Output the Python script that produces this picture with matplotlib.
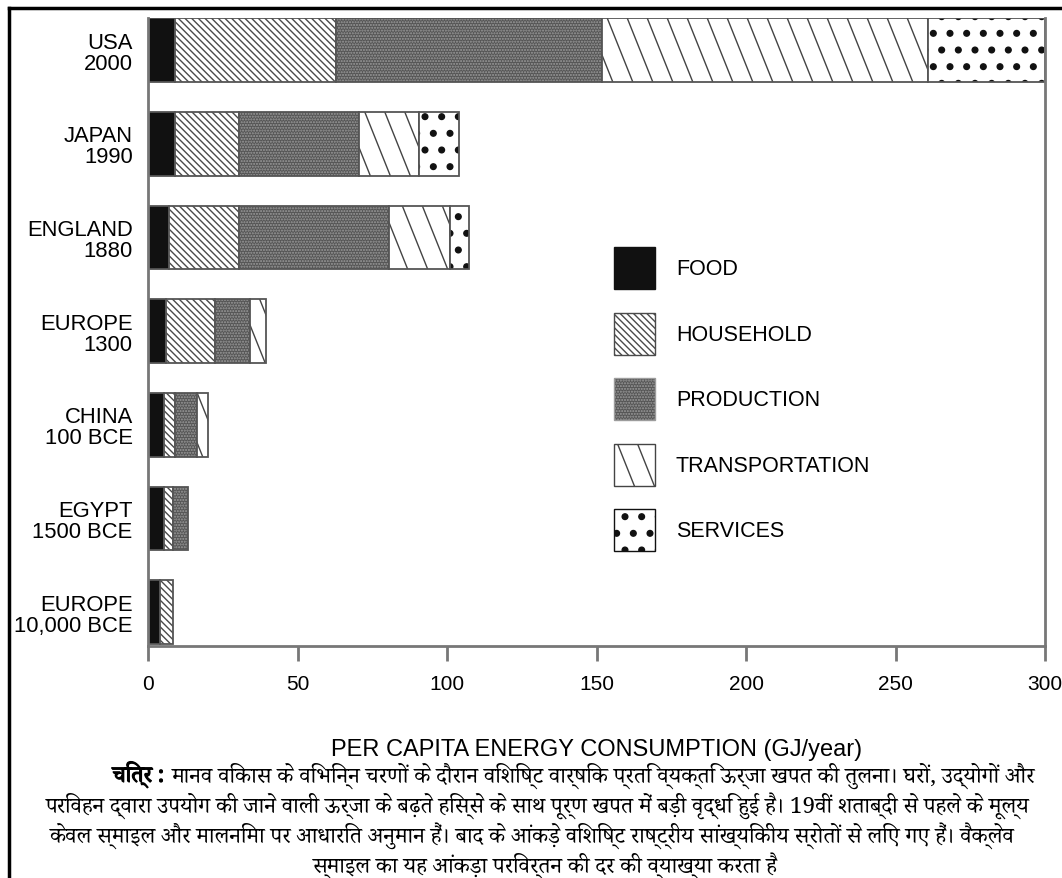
import matplotlib
matplotlib.use("Agg")
import matplotlib.pyplot as plt
import matplotlib.hatch as mhatch
import matplotlib.patheffects as pe
from matplotlib import font_manager
from matplotlib.ft2font import FT2Font
from matplotlib.patches import Patch
from matplotlib.path import Path
from matplotlib.lines import Line2D
import numpy as np

# ---------------- data ----------------
labels = ["USA\n2000", "JAPAN\n1990", "ENGLAND\n1880", "EUROPE\n1300",
          "CHINA\n100 BCE", "EGYPT\n1500 BCE", "EUROPE\n10,000 BCE"]
categories = ["FOOD", "HOUSEHOLD", "PRODUCTION", "TRANSPORTATION", "SERVICES"]
food           = [9.0, 9.0, 7.0, 6.0, 5.5, 5.5, 4.0]
household      = [54.0, 21.5, 23.5, 16.5, 3.5, 3.0, 4.5]
production     = [89.0, 40.0, 50.0, 11.5, 7.5, 5.0, 0.0]
transportation = [109.0, 20.0, 20.5, 5.5, 3.5, 0.0, 0.0]
services       = [39.0, 13.5, 6.5, 0.0, 0.0, 0.0, 0.0]
xticks = [0, 50, 100, 150, 200, 250, 300]
xlabel = "PER CAPITA ENERGY CONSUMPTION (GJ/year)"
caption_bold = "चित्र :"
caption_lines = [
    "मानव विकास के विभिन्न चरणों के दौरान विशिष्ट वार्षिक प्रति व्यक्ति ऊर्जा खपत की तुलना। घरों, उद्योगों और",
    "परिवहन द्वारा उपयोग की जाने वाली ऊर्जा के बढ़ते हिस्से के साथ पूर्ण खपत में बड़ी वृद्धि हुई है। 19वीं शताब्दी से पहले के मूल्य",
    "केवल स्माइल और मालनिमा पर आधारित अनुमान हैं। बाद के आंकड़े विशिष्ट राष्ट्रीय सांख्यिकीय स्रोतों से लिए गए हैं। वैक्लेव",
    "स्माइल का यह आंकड़ा परिवर्तन की दर की व्याख्या करता है",
]

# ---------------- fonts ----------------
def find_devanagari():
    found = []
    for fe in font_manager.fontManager.ttflist:
        try:
            cm = FT2Font(fe.fname).get_charmap()
        except Exception:
            continue
        if 0x0915 in cm and 0x094D in cm:
            found.append(fe.name)
    pref = ["Noto Serif Devanagari", "Noto Sans Devanagari", "Lohit Devanagari", "FreeSerif", "FreeSans"]
    for p in pref:
        if p in found:
            return p
    return found[0] if found else None

deva = find_devanagari()
sans = ["Liberation Sans", "DejaVu Sans"]
deva_family = ([deva] if deva else []) + ["DejaVu Sans"]
plt.rcParams["font.family"] = sans
plt.rcParams["hatch.linewidth"] = 1.0

# ---------------- custom hatch textures ----------------
try:
    class _Dots(mhatch.Circles):
        """single '.' -> large sparse dots (services); more dots -> default fine dots"""
        filled = True

        def __init__(self, hatch, density):
            n = hatch.count('.')
            if n == 1:
                self.num_rows = 6          # must be even
                self.size = 0.17
            else:
                self.num_rows = n * density
                self.size = 0.1
            super().__init__(hatch, density)

    mhatch._hatch_types = [(_Dots if t is mhatch.SmallFilledCircles else t)
                           for t in mhatch._hatch_types]
except Exception:
    pass

try:
    _SE_base = mhatch.SouthEastHatch

    class _SE(_SE_base):
        """single '\\' -> sparse steep lines (transportation); more -> default 45 deg"""

        def __init__(self, hatch, density):
            n = hatch.count('\\') + hatch.count('x') + hatch.count('X')
            self.steep = (n == 1 and hatch.count('\\') == 1)
            if self.steep:
                self.k = 5
                self.dx = 0.4
                self.num_lines = 8
                self.num_vertices = self.num_lines * 2
            else:
                super().__init__(hatch, density)

        def set_vertices_and_codes(self, vertices, codes):
            if self.steep:
                c = np.arange(self.num_lines) / self.k
                vertices[0::2, 0] = c
                vertices[0::2, 1] = 0.0
                vertices[1::2, 0] = c - self.dx
                vertices[1::2, 1] = 1.0
                codes[0::2] = Path.MOVETO
                codes[1::2] = Path.LINETO
            else:
                super().set_vertices_and_codes(vertices, codes)

    mhatch._hatch_types = [(_SE if t is _SE_base else t) for t in mhatch._hatch_types]
except Exception:
    pass

W, H = 1062, 879
# ---------------- figure ----------------
fig = plt.figure(figsize=(W / 100, H / 100), dpi=100)
ax = fig.add_axes([148 / W, 1 - 647 / H, (1045 - 148) / W, (647 - 19) / H])

y = np.arange(len(labels))[::-1]  # USA at top
h = 0.68
series = [food, household, production, transportation, services]
styles = [
    dict(color="#111111", hatch=None, hc="#111111"),
    dict(color="white", hatch="\\\\\\\\\\", hc="#4a4a4a"),
    dict(color="#555555", hatch="......", hc="#9c9c9c"),
    dict(color="white", hatch="\\", hc="#444444"),
    dict(color="white", hatch=".", hc="#111111"),
]
left = np.zeros(len(labels))
for vals, st in zip(series, styles):
    vals = np.array(vals)
    mask = vals > 0
    ax.barh(y[mask], vals[mask], height=h, left=left[mask], color=st["color"],
            hatch=st["hatch"], edgecolor=st["hc"], linewidth=0)
    ax.barh(y[mask], vals[mask], height=h, left=left[mask], facecolor="none",
            edgecolor="#555555", linewidth=1.3)
    left += vals

ax.set_xlim(0, 300)
ax.set_ylim(-0.36, len(labels) - 1 + h / 2 + 0.003)
ax.set_xticks(xticks)
ax.set_xticklabels([str(t) for t in xticks], fontsize=15)
ax.set_yticks(y)
ax.set_yticklabels(labels, fontsize=15.8, linespacing=1.0)
ax.tick_params(axis="y", length=0, pad=11)
ax.tick_params(axis="x", length=11, width=2, color="#777777", pad=9, direction="out")
ax.spines["top"].set_visible(False)
for s in ["left", "bottom", "right"]:
    ax.spines[s].set_color("#777777")
    ax.spines[s].set_linewidth(2)
ax.set_xlabel(xlabel, fontsize=17)
ax.xaxis.set_label_coords(0.5, (647 - 750) / (647 - 19))
ax.xaxis.label.set_va("center")

# legend
fs_leg = 15.5
px = fs_leg * 100 / 72
hh = (42 / px - 0.245) / 0.65
handles = [Patch(facecolor=st["color"], hatch=st["hatch"], edgecolor=st["hc"], linewidth=1)
           for st in styles]
leg = ax.legend(handles, categories, loc="upper left",
                bbox_to_anchor=(614 / W, 1 - 248 / H), bbox_transform=fig.transFigure,
                frameon=False, fontsize=fs_leg, handlelength=41 / px, handleheight=hh,
                labelspacing=(65.5 - 42) / px, handletextpad=21 / px,
                borderpad=0, borderaxespad=0)

# frame (left and top border)
fig.add_artist(Line2D([9 / W, 9 / W], [0, 1 - 9 / H], transform=fig.transFigure,
                      color="black", linewidth=2.5))
fig.add_artist(Line2D([9 / W, 1], [1 - 9 / H, 1 - 9 / H], transform=fig.transFigure,
                      color="black", linewidth=2.5))

# caption
fs_cap = 16.3
cy = [776, 806, 836, 866]
cx = [574, 538, 532, 545]
t0 = fig.text(0, 1 - cy[0] / H, caption_bold, fontsize=fs_cap, fontweight="bold",
              family=deva_family, ha="left", va="center",
              path_effects=[pe.withStroke(linewidth=0.9, foreground="black")])
t1 = fig.text(0, 1 - cy[0] / H, caption_lines[0], fontsize=fs_cap,
              family=deva_family, ha="left", va="center")
fig.canvas.draw()
w0 = t0.get_window_extent().width
w1 = t1.get_window_extent().width
gap = 8
start = cx[0] - (w0 + gap + w1) / 2
t0.set_x(start / W)
t1.set_x((start + w0 + gap) / W)
for line, xx, yy in zip(caption_lines[1:], cx[1:], cy[1:]):
    fig.text(xx / W, 1 - yy / H, line, fontsize=fs_cap, family=deva_family,
             ha="center", va="center")

fig.savefig("out.png", dpi=100)
